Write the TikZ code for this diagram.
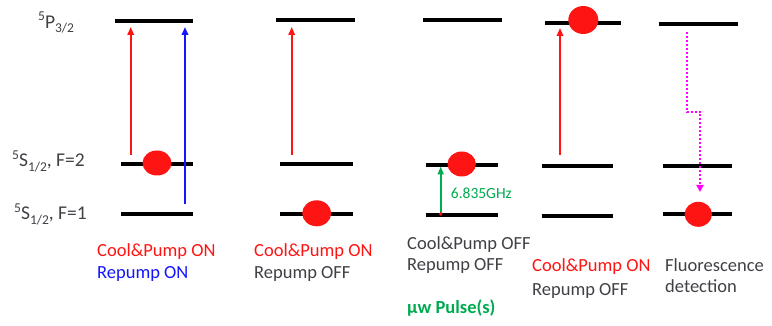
\documentclass[tikz,border=0pt]{standalone}
\usepackage{fontspec}
\setmainfont{Carlito}
\usetikzlibrary{arrows.meta}
\definecolor{myred}{RGB}{255,20,20}
\definecolor{myblue}{RGB}{20,20,255}
\definecolor{mygray}{RGB}{64,64,70}
\definecolor{mygreen}{RGB}{0,170,80}
\definecolor{mymag}{RGB}{255,0,255}
\newcommand{\mysup}[1]{\raisebox{7.5pt}{\fontsize{13.5}{13.5}\selectfont #1}}
\newcommand{\mysub}[1]{\raisebox{-4.5pt}{\fontsize{13.5}{13.5}\selectfont #1}}
\begin{document}
\begin{tikzpicture}[x=1pt,y=-1pt,
  lvl/.style={line width=3.8pt, black},
  laser/.style={line width=1.8pt, -{Triangle[length=8pt,width=6.5pt]}},
  atom/.style={fill=myred},
  txt/.style={font=\fontsize{18.5}{22}\selectfont, inner sep=0pt, anchor=base west},
  lbl/.style={font=\fontsize{19.5}{22}\selectfont, inner sep=0pt, anchor=base west, text=mygray},
]
\useasboundingbox (0,0) rectangle (772,326);

% level labels
\node[lbl] (lp) at (38,28.5) {\mysup{5}P\mysub{3/2}};
\node[lbl] (ls2) at (12,166.7) {\mysup{5}S\mysub{1/2}, F=2};
\node[lbl] (ls1) at (14,220) {\mysup{5}S\mysub{1/2}, F=1};

% ---- column 1
\coordinate (c1pa) at (115,21); \coordinate (c1pb) at (193,21);
\coordinate (c1ba) at (121,164); \coordinate (c1bb) at (193,164);
\coordinate (c1aa) at (121,214); \coordinate (c1ab) at (193,214);
\draw[lvl] (c1pa) -- (c1pb);
\draw[lvl] (c1ba) -- (c1bb);
\draw[lvl] (c1aa) -- (c1ab);
\coordinate (c1r0) at (130.7,155); \coordinate (c1r1) at (130.7,27);
\coordinate (c1b0) at (185,204); \coordinate (c1b1) at (185,27);
\draw[laser, myred] (c1r0) -- (c1r1);
\draw[laser, myblue] (c1b0) -- (c1b1);
\fill[atom] (157,163) ellipse [x radius=14.5, y radius=12.5];
\node[txt, text=myred] (t1a) at (97,256.7) {Cool\&Pump ON};
\node[txt, text=myblue] (t1b) at (97,279) {Repump ON};

% ---- column 2
\coordinate (c2pa) at (276,20); \coordinate (c2pb) at (355,20);
\coordinate (c2ba) at (280,164); \coordinate (c2bb) at (352.7,164);
\coordinate (c2aa) at (280,214); \coordinate (c2ab) at (352.7,214);
\draw[lvl] (c2pa) -- (c2pb);
\draw[lvl] (c2ba) -- (c2bb);
\draw[lvl] (c2aa) -- (c2ab);
\coordinate (c2r0) at (291.7,155); \coordinate (c2r1) at (291.7,27);
\draw[laser, myred] (c2r0) -- (c2r1);
\fill[atom] (316.7,213.3) ellipse [x radius=14.5, y radius=13];
\node[txt, text=myred] (t2a) at (254,256.7) {Cool\&Pump ON};
\node[txt, text=mygray] (t2b) at (254,279) {Repump OFF};

% ---- column 3
\coordinate (c3pa) at (422.7,20); \coordinate (c3pb) at (501.7,20);
\coordinate (c3ba) at (425.7,165); \coordinate (c3bb) at (497.7,165);
\coordinate (c3aa) at (425.7,215); \coordinate (c3ab) at (497.7,215);
\draw[lvl] (c3pa) -- (c3pb);
\draw[lvl] (c3ba) -- (c3bb);
\draw[lvl] (c3aa) -- (c3ab);
\fill[atom] (461.7,164) ellipse [x radius=14.2, y radius=12.5];
\coordinate (c3g0) at (440.7,214); \coordinate (c3g1) at (440.7,166.5);
\draw[mygreen, line width=1.8pt, -{Triangle[length=8pt,width=6pt]}] (c3g0) -- (c3g1);
\fill[myred] (c3g0) circle [radius=1.8];
\node[inner sep=0pt, anchor=base west, text=mygreen, font=\fontsize{15.5}{17}\selectfont] (ghz) at (450.7,198.5) {6.835GHz};
\node[txt, text=mygray] (t3a) at (407,249.3) {Cool\&Pump OFF};
\node[txt, text=mygray] (t3b) at (407,270.7) {Repump OFF};
\node[txt, text=mygreen, font=\fontsize{18.5}{22}\selectfont\bfseries] (t3c) at (407,313) {µw Pulse(s)};

% ---- column 4
\coordinate (c4pa) at (545,23.3); \coordinate (c4pb) at (621,23.3);
\coordinate (c4ba) at (541.7,165.7); \coordinate (c4bb) at (613.3,165.7);
\coordinate (c4aa) at (541.7,216); \coordinate (c4ab) at (613.3,216);
\draw[lvl] (c4pa) -- (c4pb);
\draw[lvl] (c4ba) -- (c4bb);
\draw[lvl] (c4aa) -- (c4ab);
\coordinate (c4r0) at (560,155); \coordinate (c4r1) at (560,28);
\draw[laser, myred] (c4r0) -- (c4r1);
\fill[atom] (583.3,20) ellipse [x radius=15, y radius=14];
\node[txt, text=myred] (t4a) at (532,271.7) {Cool\&Pump ON};
\node[txt, text=mygray] (t4b) at (532,295) {Repump OFF};

% ---- column 5
\coordinate (c5pa) at (659.3,24); \coordinate (c5pb) at (738.3,24);
\coordinate (c5ba) at (662.7,165.7); \coordinate (c5bb) at (732.3,165.7);
\coordinate (c5aa) at (662.7,214.3); \coordinate (c5ab) at (732.3,214.3);
\draw[lvl] (c5pa) -- (c5pb);
\draw[lvl] (c5ba) -- (c5bb);
\draw[lvl] (c5aa) -- (c5ab);
\coordinate (c5m0) at (686.7,31.7); \coordinate (c5m1) at (686.7,111.7);
\coordinate (c5m2) at (700,111.7); \coordinate (c5m3) at (700,192);
\draw[mymag, line width=2pt, dash pattern=on 2pt off 2pt, -{Triangle[length=7pt,width=7pt]}]
  (c5m0) -- (c5m1) -- (c5m2) -- (c5m3);
\fill[atom] (698.3,214.3) ellipse [x radius=13.7, y radius=12.5];
\node[txt, text=mygray] (t5a) at (665,271.7) {Fluorescence};
\node[txt, text=mygray] (t5b) at (665,292.7) {detection};
\end{tikzpicture}
\end{document}
